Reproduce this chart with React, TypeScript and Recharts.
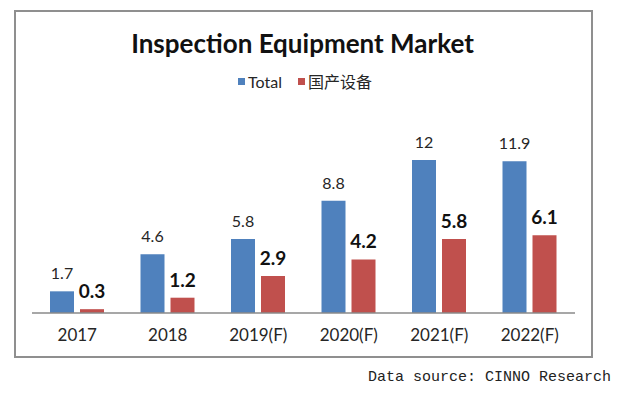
import { BarChart, Bar, XAxis, YAxis, LabelList, Legend } from 'recharts';

const years = ['2017', '2018', '2019(F)', '2020(F)', '2021(F)', '2022(F)'];
const totalValues = [1.7, 4.6, 5.8, 8.8, 12, 11.9];
const domesticValues = [0.3, 1.2, 2.9, 4.2, 5.8, 6.1];

const seriesNames = { total: 'Total', domestic: '国产设备' };
const BLUE = '#4F81BD';
const RED = '#C0504D';
const FONT = 'Lato, "Noto Sans CJK SC", sans-serif';

const data = years.map((year, i) => ({
  year,
  total: totalValues[i],
  domestic: domesticValues[i],
}));

function YearTick(props: any) {
  const { x, y, payload } = props;
  return (
    <text x={x} y={y + 20} textAnchor="middle" fontSize={17} fontFamily={FONT} fill="#262626">
      {payload.value}
    </text>
  );
}

function LegendContent() {
  const items = [
    { name: seriesNames.total, color: BLUE },
    { name: seriesNames.domestic, color: RED },
  ];
  return (
    <div style={{ display: 'flex', justifyContent: 'center', gap: 16, fontFamily: FONT, fontSize: 16, color: '#262626' }}>
      {items.map((it) => (
        <span key={it.name} style={{ display: 'flex', alignItems: 'center' }}>
          <span style={{ width: 7, height: 7, background: it.color, marginRight: 3 }} />
          {it.name}
        </span>
      ))}
    </div>
  );
}

export default function App() {
  return (
    <div style={{ position: 'absolute', left: 0, top: 0, width: 617, height: 395, background: '#fff' }}>
      <div
        style={{
          position: 'absolute',
          left: 14,
          top: 10,
          width: 575,
          height: 344,
          border: '2px solid #8f8f8f',
        }}
      />
      <div
        style={{
          position: 'absolute',
          left: 0,
          top: 27,
          width: 605,
          textAlign: 'center',
          fontFamily: FONT,
          fontWeight: 'bold',
          fontSize: 26,
          color: '#111',
        }}
      >
        Inspection Equipment Market
      </div>
      <BarChart
        width={617}
        height={395}
        data={data}
        margin={{ top: 134.5, right: 42, bottom: 52, left: 32 }}
        barSize={24}
        barGap={6}
        style={{ position: 'absolute', left: 0, top: 0 }}
      >
        <XAxis
          dataKey="year"
          height={30}
          axisLine={{ stroke: '#8a8a8a', strokeWidth: 1.5 }}
          tickLine={false}
          tick={<YearTick />}
          interval={0}
        />
        <YAxis hide domain={[0, 14]} />
        <Legend
          verticalAlign="middle"
          align="center"
          content={<LegendContent />}
          wrapperStyle={{ position: 'absolute', top: 69, left: 0, width: 610 }}
        />
        <Bar dataKey="total" name={seriesNames.total} fill={BLUE} isAnimationActive={false}>
          <LabelList
            dataKey="total"
            position="top"
            offset={12}
            fontSize={16}
            fontFamily={FONT}
            fill="#262626"
          />
        </Bar>
        <Bar dataKey="domestic" name={seriesNames.domestic} fill={RED} isAnimationActive={false}>
          <LabelList
            dataKey="domestic"
            position="top"
            offset={11}
            fontSize={19}
            fontWeight="bold"
            fontFamily={FONT}
            fill="#111"
          />
        </Bar>
      </BarChart>
      <div
        style={{
          position: 'absolute',
          right: 6,
          top: 369,
          fontFamily: '"Liberation Mono", monospace',
          fontSize: 15,
          color: '#222',
          whiteSpace: 'nowrap',
        }}
      >
        Data source: CINNO Research
      </div>
    </div>
  );
}
